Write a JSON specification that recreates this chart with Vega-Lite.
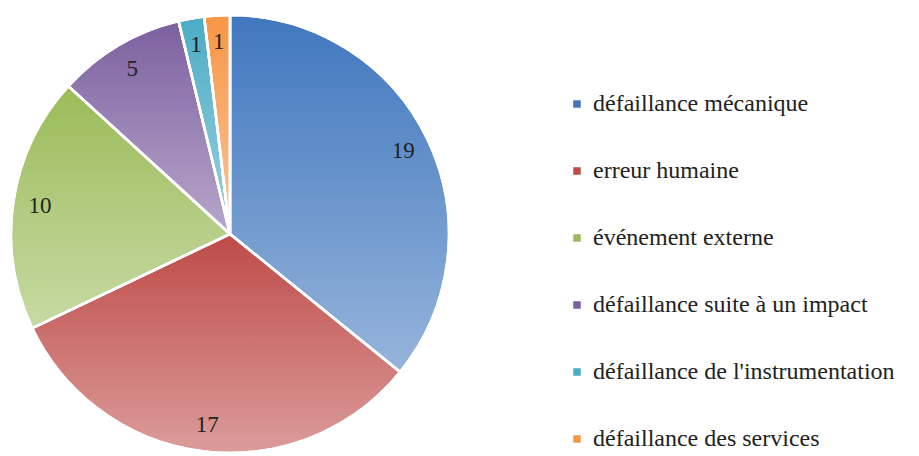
{
  "$schema": "https://vega.github.io/schema/vega-lite/v6.json",
  "width": 460,
  "height": 468,
  "autosize": "pad",
  "padding": 0,
  "background": "white",
  "data": {"values": [
    {"cause": "défaillance mécanique", "value": 19, "ord": 1},
    {"cause": "erreur humaine", "value": 17, "ord": 2},
    {"cause": "événement externe", "value": 10, "ord": 3},
    {"cause": "défaillance suite à un impact", "value": 5, "ord": 4},
    {"cause": "défaillance de l'instrumentation", "value": 1, "ord": 5},
    {"cause": "défaillance des services", "value": 1, "ord": 6}
  ]},
  "encoding": {
    "theta": {"field": "value", "type": "quantitative", "stack": true},
    "order": {"field": "ord", "type": "quantitative"}
  },
  "layer": [
    {
      "mark": {"type": "arc", "outerRadius": 219, "stroke": "white", "strokeWidth": 2.5},
      "encoding": {
        "color": {
          "field": "cause", "type": "nominal",
          "scale": {
            "domain": ["défaillance mécanique", "erreur humaine", "événement externe", "défaillance suite à un impact", "défaillance de l'instrumentation", "défaillance des services"],
            "range": ["#4077be", "#be4b48", "#9bbb59", "#7d60a0", "#4bacc6", "#f79646"]
          },
          "legend": {
            "title": null,
            "orient": "none",
            "legendX": 565,
            "legendY": 92,
            "symbolType": "square",
            "symbolSize": 56,
            "symbolStrokeWidth": 0,
            "labelLimit": 400,
            "labelOffset": 4,
            "rowPadding": 43,
            "labelFont": "Liberation Serif",
            "labelFontSize": 24,
            "labelColor": "#222222"
          }
        },
        "order": {"field": "ord", "type": "quantitative"}
      }
    },
    {
      "mark": {
        "type": "arc", "outerRadius": 219, "stroke": "white", "strokeWidth": 2.5,
        "fill": {
          "gradient": "linear", "x1": 0, "y1": 0, "x2": 0, "y2": 1,
          "stops": [
            {"offset": 0, "color": "rgba(255,255,255,0)"},
            {"offset": 1, "color": "rgba(255,255,255,0.45)"}
          ]
        }
      },
      "encoding": {"order": {"field": "ord", "type": "quantitative"}}
    },
    {
      "mark": {"type": "text", "radius": 192, "font": "Liberation Serif", "fontSize": 23, "color": "#222222"},
      "encoding": {
        "text": {"field": "value", "type": "quantitative"},
        "order": {"field": "ord", "type": "quantitative"}
      }
    }
  ],
  "config": {
    "view": {"stroke": null}
  }
}
